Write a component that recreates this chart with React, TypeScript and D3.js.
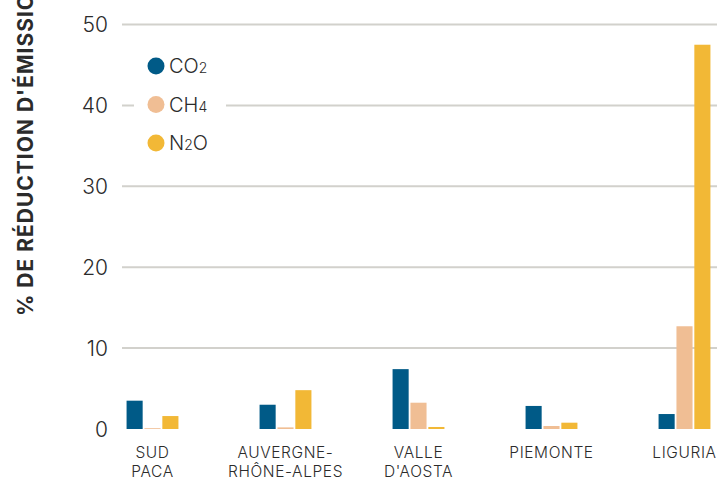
import * as d3 from "d3";

const regions = ["SUD PACA", "AUVERGNE-RHÔNE-ALPES", "VALLE D'AOSTA", "PIEMONTE", "LIGURIA"];
const regionLines = [["SUD", "PACA"], ["AUVERGNE-", "RHÔNE-ALPES"], ["VALLE", "D'AOSTA"], ["PIEMONTE"], ["LIGURIA"]];
const series = ["CO2", "CH4", "N2O"];
const seriesLabel: [string, string, string][] = [["CO", "2", ""], ["CH", "4", ""], ["N", "2", "O"]];
const colors = ["#005a87", "#f0be94", "#f2b836"];

const co2 = [3.5, 3.0, 7.4, 2.85, 1.85];
const ch4 = [0.1, 0.2, 3.25, 0.37, 12.7];
const n2o = [1.6, 4.8, 0.25, 0.78, 47.5];
const values = [co2, ch4, n2o];

const yTicks = [0, 10, 20, 30, 40, 50];

const W = 717;
const H = 481;
const FONT = "Inter, 'Open Sans', sans-serif";

export default function App() {
  const y = d3.scaleLinear().domain([0, 50]).range([429, 24.5]);
  // chart continues past the right edge of the picture
  const x0 = d3.scaleBand<string>().domain(regions).range([86, 751]).paddingInner(0.61).paddingOuter(0.305);
  const x1 = d3.scaleBand<string>().domain(series).range([0, x0.bandwidth()]).paddingInner(0.1);

  return (
    <svg
      width={W}
      height={H}
      viewBox={`0 0 ${W} ${H}`}
      style={{ position: "absolute", left: 0, top: 0, fontFamily: FONT, background: "#fff" }}
    >
      {/* gridlines */}
      {yTicks.filter(t => t > 0).map(t => (
        <line key={t} x1={122} x2={W} y1={y(t)} y2={y(t)} stroke="#d2d1cc" strokeWidth={2} />
      ))}
      {/* y tick labels */}
      {yTicks.map(t => (
        <text key={t} x={108} y={y(t)} dy="0.36em" textAnchor="end" fontSize={21} fontWeight={300} fill="#2b2b2b">
          {t}
        </text>
      ))}
      {/* y axis title, cropped at the top like the source */}
      <text
        transform="translate(33,316) rotate(-90)"
        fontSize={21}
        fontWeight="bold"
        fill="#2b2b2b"
        letterSpacing={1}
      >
        % DE RÉDUCTION D'ÉMISSIONS
      </text>

      {/* bars */}
      {regions.map((r, i) => (
        <g key={r} transform={`translate(${x0(r)},0)`}>
          {series.map((s, j) => (
            <rect
              key={s}
              x={x1(s)}
              width={x1.bandwidth()}
              y={y(values[j][i])}
              height={y(0) - y(values[j][i])}
              fill={colors[j]}
            />
          ))}
        </g>
      ))}

      {/* x labels */}
      {regions.map((r, i) => (
        <text key={r} x={(x0(r) ?? 0) + x0.bandwidth() / 2} y={458} textAnchor="middle" fontSize={15.5} fontWeight={300} fill="#2b2b2b" letterSpacing={0.6}>
          {regionLines[i].map((l, k) => (
            <tspan key={k} x={(x0(r) ?? 0) + x0.bandwidth() / 2} dy={k === 0 ? 0 : 19}>{l}</tspan>
          ))}
        </text>
      ))}

      {/* legend */}
      <rect x={134} y={50} width={92} height={110} fill="#fff" />
      {series.map((s, j) => (
        <g key={s} transform={`translate(156,${66 + j * 38.5})`}>
          <circle r={8.5} fill={colors[j]} />
          <text x={13} dy="0.36em" fontSize={20} fontWeight={300} fill="#2b2b2b">
            {seriesLabel[j][0]}
            <tspan fontSize={14}>{seriesLabel[j][1]}</tspan>
            {seriesLabel[j][2]}
          </text>
        </g>
      ))}
    </svg>
  );
}
